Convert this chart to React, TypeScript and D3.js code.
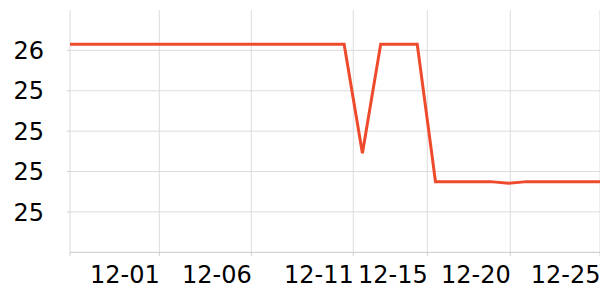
import React from "react";
import * as d3 from "d3";

const dates: string[] = [
  "11-26", "11-27", "11-28", "11-29", "11-30",
  "12-01", "12-02", "12-03", "12-04", "12-05",
  "12-06", "12-07", "12-08", "12-09", "12-10",
  "12-11", "12-12", "12-13", "12-14", "12-15",
  "12-16", "12-17", "12-18", "12-19", "12-20",
  "12-21", "12-22", "12-23", "12-24", "12-25",
];

const values: number[] = [
  26.03, 26.03, 26.03, 26.03, 26.03,
  26.03, 26.03, 26.03, 26.03, 26.03,
  26.03, 26.03, 26.03, 26.03, 26.03,
  26.03, 25.49, 26.03, 26.03, 26.03,
  25.35, 25.35, 25.35, 25.35, 25.342,
  25.35, 25.35, 25.35, 25.35, 25.35,
];

// x tick positions in data-index units and their labels
const xTickValues: number[] = [0, 4.886, 9.92, 15.5, 19.55, 24.09, 29];
const xTickLabels: string[] = ["", "12-01", "12-06", "12-11", "12-15", "12-20", "12-25"];

const yTickValues: number[] = [25.2, 25.4, 25.6, 25.8, 26.0];
const yTickLabels: string[] = ["25", "25", "25", "25", "26"];
const yDomain: [number, number] = [25.0, 26.2];

const W = 600;
const H = 300;
const M = { left: 70, right: 0, top: 10, bottom: 47.7 };

export default function App() {
  const x = d3
    .scaleLinear()
    .domain([0, dates.length - 1])
    .range([M.left, W - M.right]);
  const y = d3.scaleLinear().domain(yDomain).range([H - M.bottom, M.top]);

  const line = d3
    .line<number>()
    .x((_, i) => x(i))
    .y((d) => y(d));

  const bottom = H - M.bottom;
  const font = "'DejaVu Sans', sans-serif";

  return (
    <svg
      width={W}
      height={H}
      style={{ position: "fixed", left: 0, top: 0, background: "#fff" }}
    >
      {/* horizontal grid + y ticks */}
      {yTickValues.map((v, i) => (
        <g key={"y" + i}>
          <line x1={M.left} x2={W - M.right} y1={y(v)} y2={y(v)} stroke="#dcdcdc" strokeWidth={1} />
          <line x1={M.left - 3} x2={M.left} y1={y(v)} y2={y(v)} stroke="#cfcfcf" strokeWidth={1} />
          <text
            x={44}
            y={y(v)}
            dy="0.36em"
            textAnchor="end"
            fontFamily={font}
            fontSize={24}
            fill="#000"
          >
            {yTickLabels[i]}
          </text>
        </g>
      ))}
      {/* vertical grid + x ticks */}
      {xTickValues.map((v, i) => (
        <g key={"x" + i}>
          <line x1={x(v)} x2={x(v)} y1={M.top} y2={bottom} stroke="#dcdcdc" strokeWidth={1} />
          <line x1={x(v)} x2={x(v)} y1={bottom} y2={bottom + 4} stroke="#cfcfcf" strokeWidth={1} />
          <text
            x={x(v) + 0.5}
            y={bottom + 31}
            textAnchor="end"
            fontFamily={font}
            fontSize={24}
            fill="#000"
          >
            {xTickLabels[i]}
          </text>
        </g>
      ))}
      {/* x axis line */}
      <line x1={M.left} x2={W - M.right} y1={bottom} y2={bottom} stroke="#c8c8c8" strokeWidth={1} />
      {/* data line */}
      <path d={line(values) || ""} fill="none" stroke="#ee4a2c" strokeWidth={3} />
    </svg>
  );
}
